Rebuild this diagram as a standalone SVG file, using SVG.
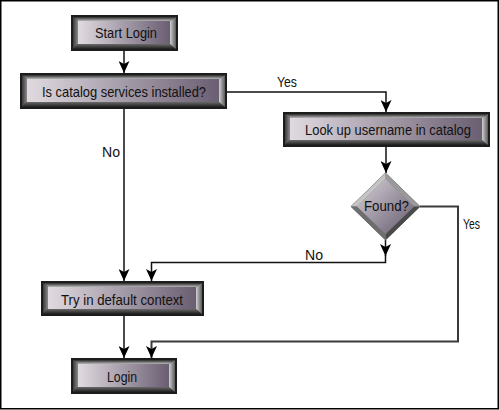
<svg xmlns="http://www.w3.org/2000/svg" width="499" height="410" viewBox="0 0 499 410">
<style>
.frame{fill:#fff;stroke:#000;stroke-width:1.5}
.outer{fill:#1c1c1c}
.bt{fill:url(#gTop)}
.bl{fill:url(#gLeft)}
.bb{fill:url(#gBottom)}
.br{fill:url(#gRight)}
.face{fill:url(#gFace)}
.c{fill:none;stroke:#111;stroke-width:1.5}
.c2{fill:none;stroke:#3a3a3a;stroke-width:2}
.t{font-family:"Liberation Sans",Arial,sans-serif;font-size:15px;fill:#111;text-anchor:middle}
.lbl{font-family:"Liberation Sans",Arial,sans-serif;font-size:15px;fill:#111}
</style>
<defs>
<linearGradient id="gTop" x1="0" y1="0" x2="0" y2="1"><stop offset="0" stop-color="#2a2a2a"/><stop offset="1" stop-color="#b8b8b8"/></linearGradient>
<linearGradient id="gLeft" x1="0" y1="0" x2="1" y2="0"><stop offset="0" stop-color="#3a3a3a"/><stop offset="1" stop-color="#8a8a8a"/></linearGradient>
<linearGradient id="gBottom" x1="0" y1="0" x2="0" y2="1"><stop offset="0" stop-color="#6a6a6a"/><stop offset="1" stop-color="#1e1e1e"/></linearGradient>
<linearGradient id="gRight" x1="0" y1="0" x2="1" y2="0"><stop offset="0" stop-color="#d0d0d0"/><stop offset="1" stop-color="#5a5a5a"/></linearGradient>
<linearGradient id="gFace" x1="0" y1="0" x2="1" y2="0"><stop offset="0" stop-color="#e0dae0"/><stop offset="1" stop-color="#6a5e72"/></linearGradient>
<linearGradient id="gDia" x1="0" y1="0" x2="1" y2="1"><stop offset="0" stop-color="#d8d2da"/><stop offset="1" stop-color="#645a6c"/></linearGradient>
<marker id="arr" markerUnits="userSpaceOnUse" markerWidth="12" markerHeight="11" refX="12" refY="5.5" orient="auto">
<path d="M0,0 L12,5.5 L0,11 L3,5.5 z" fill="#000"/>
</marker>
</defs>
<rect class="frame" x="0.75" y="0.75" width="497.5" height="408"/>

<g id="connectors">
<path class="c" d="M124,51 V73" marker-end="url(#arr)"/>
<path class="c" d="M227,92 H386 V112" marker-end="url(#arr)"/>
<path class="c" d="M386,147 V173" marker-end="url(#arr)"/>
<path class="c" d="M124,109 V281" marker-end="url(#arr)"/>
<path class="c" d="M385.5,240 V256" marker-end="url(#arr)"/>
<path class="c" d="M385.5,255 V262.5 H151.5 V281" marker-end="url(#arr)"/>
<path class="c2" d="M420,206.5 H458 V341.5 H151.5 V358" marker-end="url(#arr)"/>
<path class="c" d="M124,316 V358" marker-end="url(#arr)"/>
<text class="lbl" x="277" y="87" textLength="20" lengthAdjust="spacingAndGlyphs">Yes</text>
<text class="lbl" x="102" y="157" textLength="18" lengthAdjust="spacingAndGlyphs">No</text>
<text class="lbl" x="463" y="229" textLength="17" lengthAdjust="spacingAndGlyphs">Yes</text>
<text class="lbl" x="305" y="260" textLength="18" lengthAdjust="spacingAndGlyphs">No</text>
</g>

<g id="start">
<rect class="outer" x="71" y="15" width="107" height="36"/>
<polygon class="bt" points="73,17 176,17 170,21 78,21"/>
<polygon class="bl" points="73,17 78,21 78,44 73,49"/>
<polygon class="bb" points="73,49 78,44 170,44 176,49"/>
<polygon class="br" points="176,17 170,21 170,44 176,49"/>
<rect class="face" x="78" y="21" width="92" height="23"/>
<text class="t" x="126" y="38" textLength="62" lengthAdjust="spacingAndGlyphs">Start Login</text>
</g>

<g id="catalog">
<rect class="outer" x="20" y="73" width="207" height="36"/>
<polygon class="bt" points="22,75 225,75 219,79 27,79"/>
<polygon class="bl" points="22,75 27,79 27,102 22,107"/>
<polygon class="bb" points="22,107 27,102 219,102 225,107"/>
<polygon class="br" points="225,75 219,79 219,102 225,107"/>
<rect class="face" x="27" y="79" width="192" height="23"/>
<text class="t" x="124" y="97" textLength="164" lengthAdjust="spacingAndGlyphs">Is catalog services installed?</text>
</g>

<g id="lookup">
<rect class="outer" x="283" y="112" width="207" height="35"/>
<polygon class="bt" points="285,114 488,114 482,118 290,118"/>
<polygon class="bl" points="285,114 290,118 290,140 285,145"/>
<polygon class="bb" points="285,145 290,140 482,140 488,145"/>
<polygon class="br" points="488,114 482,118 482,140 488,145"/>
<rect class="face" x="290" y="118" width="192" height="22"/>
<text class="t" x="388" y="135" textLength="166" lengthAdjust="spacingAndGlyphs">Look up username in catalog</text>
</g>

<g id="found">
<polygon points="385.5,173 420,206.5 385.5,240 351,206.5" fill="#777" stroke="#555" stroke-width="0.8"/>
<polygon points="351,206.5 385.5,173 385.5,179 357,206.5" fill="#c4c4c4"/>
<polygon points="385.5,173 420,206.5 414,206.5 385.5,179" fill="#9a9a9a"/>
<polygon points="420,206.5 385.5,240 385.5,234 414,206.5" fill="#4a4a4a"/>
<polygon points="385.5,240 351,206.5 357,206.5 385.5,234" fill="#6e6e6e"/>
<polygon points="385.5,179 414,206.5 385.5,234 357,206.5" fill="url(#gDia)"/>
<text class="t" x="386.5" y="211" textLength="45" lengthAdjust="spacingAndGlyphs">Found?</text>
</g>

<g id="try">
<rect class="outer" x="41" y="281" width="163" height="35"/>
<polygon class="bt" points="43,283 202,283 196,287 48,287"/>
<polygon class="bl" points="43,283 48,287 48,309 43,314"/>
<polygon class="bb" points="43,314 48,309 196,309 202,314"/>
<polygon class="br" points="202,283 196,287 196,309 202,314"/>
<rect class="face" x="48" y="287" width="148" height="22"/>
<text class="t" x="122" y="305" textLength="122" lengthAdjust="spacingAndGlyphs">Try in default context</text>
</g>

<g id="login">
<rect class="outer" x="71" y="358" width="106" height="36"/>
<polygon class="bt" points="73,360 175,360 169,364 78,364"/>
<polygon class="bl" points="73,360 78,364 78,387 73,392"/>
<polygon class="bb" points="73,392 78,387 169,387 175,392"/>
<polygon class="br" points="175,360 169,364 169,387 175,392"/>
<rect class="face" x="78" y="364" width="91" height="23"/>
<text class="t" x="122" y="382" textLength="30" lengthAdjust="spacingAndGlyphs">Login</text>
</g>
</svg>
